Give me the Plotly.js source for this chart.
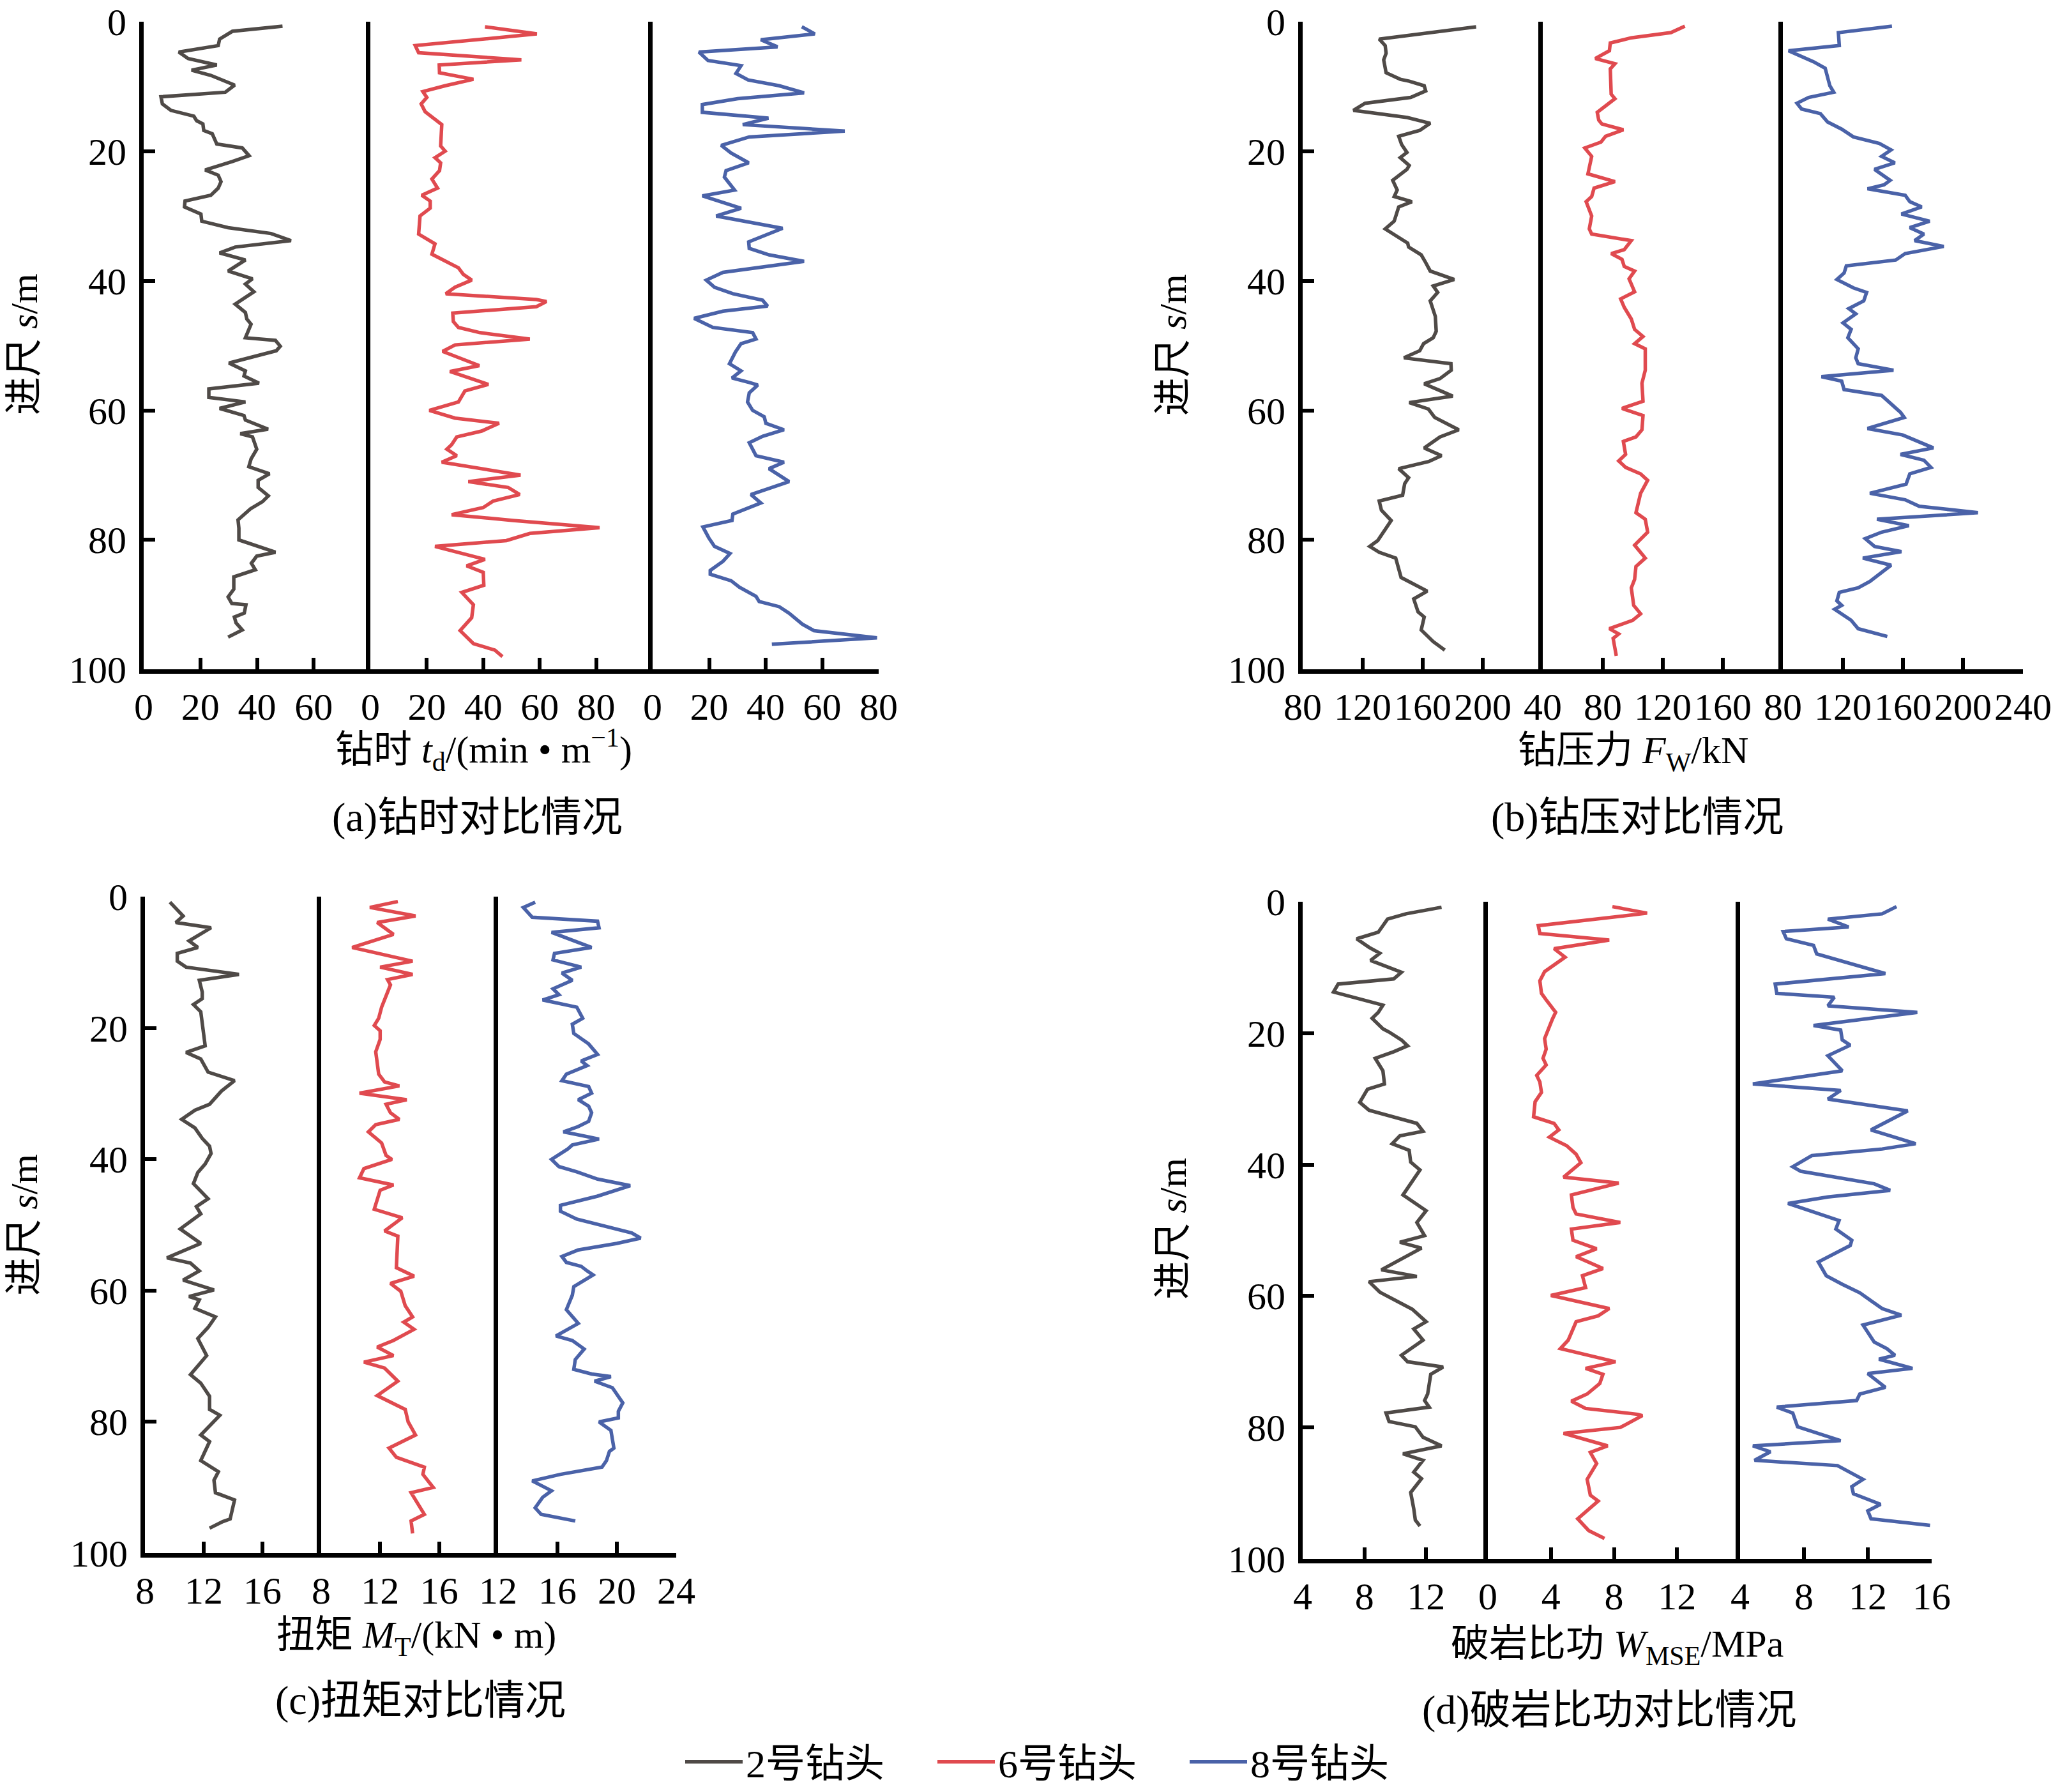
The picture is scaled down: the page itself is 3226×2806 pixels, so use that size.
<!DOCTYPE html>
<html>
<head>
<meta charset="utf-8">
<script src="https://cdn.plot.ly/plotly-3.0.1.min.js"></script>
<style>
html, body { margin: 0; padding: 0; background: #fff; }
#chart { width: 3226px; height: 2806px; }
</style>
</head>
<body>
<div id="chart"></div>
<script>
var W = 3226, H = 2806;
var FONT = 'Liberation Serif, "Noto Sans CJK SC", serif';

// each series: [depth s (m), value]
// (a) drilling time t_d, min/m
var timeBit2 = [[0.7,49],[1.5,31.3],[2.7,26.8],[3.7,26.3],[4.7,12.4],[5.7,15.7],[6.7,25.8],[7.5,16.9],[8.3,23.7],[9.8,32.1],[10.9,28.8],[11.6,6.1],[12.7,6.6],[13.7,9.6],[14.6,17.7],[15.3,18.7],[15.8,20.9],[16.8,21.2],[17.3,24.2],[18.9,25.8],[19.5,34.8],[20.7,37.2],[21.6,31.3],[22.9,21.7],[23.7,26.3],[24.7,27.3],[25.7,26.3],[26.8,23.7],[27.7,14.6],[28.6,14.4],[29.7,20.2],[30.8,20.5],[31.8,29.8],[32.7,44.9],[33.8,52],[34.8,32.3],[35.7,26.8],[36.8,35.9],[38.5,29.8],[39.7,38.4],[40.5,35.9],[41.7,38.9],[43.6,32.3],[44.9,35.9],[45.9,36.4],[46.7,37.9],[48.8,35.9],[49.2,46.5],[50.1,48.2],[50.8,46.8],[52.7,30.1],[53.9,35.9],[54.7,35.4],[55.8,40.7],[56.7,23],[58,23],[58.7,35.9],[59.7,26.8],[60.8,35.4],[61.5,35.9],[62.9,43.9],[63.6,34.1],[64.1,38.4],[66,39.9],[67.5,37.9],[68.7,37.1],[69.8,44.4],[70.8,40.4],[71.9,40.4],[73.2,44],[74.1,41.9],[75.2,37.7],[76.9,33.3],[78.2,33.6],[80,33.6],[81.9,46.5],[82.5,39.9],[83.6,38],[84.6,39.4],[85.7,31.8],[87.6,31.8],[88.8,29.8],[89.8,31.1],[90,36.1],[91.3,35.5],[91.9,32],[92.8,32.6],[93.9,34.8],[95,29.8]];
var timeBit6 = [[0.8,40.6],[1.9,59],[3.7,15.9],[4.8,17.1],[5.9,53.5],[6.7,24.4],[7.9,24.5],[8.9,36.5],[9.9,26.5],[10.8,18.6],[11.7,20],[12.7,18],[13.9,19.4],[15.2,23.5],[15.9,25.3],[19.2,24.9],[20,26.5],[21,22.9],[21.8,24.9],[23,24.5],[24.3,21.8],[25.7,23.8],[26.8,18.2],[27.7,21.2],[28.8,21.2],[30,17.6],[32.8,17.1],[34.3,22.9],[35.9,21.8],[38,31.2],[39,32.9],[39.9,35.9],[41,30],[42,26.7],[42.9,58.8],[43.2,62.4],[44,58.8],[45,29.2],[46.3,29.4],[47.2,31.2],[48,38.8],[49,56.5],[49.9,30],[50.9,25.6],[53.1,38.6],[54,28.2],[56,41.8],[57,33.5],[58.7,31.2],[60,20.9],[61.2,30],[62,45.6],[63.2,39.4],[64.1,30.6],[65.3,28.8],[66,27.1],[67,30.6],[68,25.3],[70,53.2],[71,34.7],[71.9,48.8],[73,52.9],[74,43.5],[75,40],[76.1,28.8],[77,50.6],[78.1,81.2],[79,56.5],[80.1,48.2],[81,22.9],[83,40.6],[84,34.1],[85,40],[87,40.2],[88.1,32.4],[90,36.5],[92,35.9],[94,31.8],[96,36.5],[97,44.1],[98,46.8]];
var timeBit8 = [[0.8,52.8],[1.9,57.4],[2.8,38.3],[3.9,44.2],[4.7,16.4],[6,19.6],[6.8,31.3],[8,29.5],[9,33.8],[9.9,44.8],[11,53.6],[11.9,30.1],[12.8,17.6],[14,17.6],[14.9,41],[15.9,31.9],[16.9,68],[17.8,34.2],[19.1,24.3],[20.3,27.8],[21.8,34],[23,26],[24,25.4],[26,29],[26.9,17.6],[28.8,31.3],[30,22.5],[31.9,46],[34,34],[35,34.2],[36,41.2],[37,53.6],[38.7,24.9],[39.9,19],[41,21.9],[42,28.4],[43,38.9],[43.9,40.7],[44.7,24.9],[45.8,14.7],[47.2,21.3],[48,35.4],[49,36.6],[49.7,31.3],[51,29.3],[52.8,27.2],[53.9,31.3],[55,28.1],[55.7,34.2],[56.1,37.2],[57.3,34.2],[58.7,33.6],[60,35.4],[61,39.5],[62,40.1],[63,46.5],[64,39],[65,34.2],[67,36.6],[68,46.5],[69,41.2],[71,48.3],[73,34.8],[74.3,38.3],[76,28.4],[77,28.1],[78,17.8],[79.7,19.9],[81,21.9],[82.1,27.4],[83.3,24.9],[84.7,20.4],[85.3,20.4],[86.3,27.8],[87.3,30.7],[88.7,36.6],[89.5,37.7],[90.3,44.8],[91.3,48.3],[93,53],[94,57.1],[95.1,79.4],[96.1,42.2]];

// (b) weight on bit F_W, kN
var forceBit2 = [[0.8,195.6],[2.7,131],[3.7,135],[4.9,135.6],[5.9,134],[7.9,135.6],[8.9,145],[9.2,151],[9.9,161],[10.7,162],[11.7,152],[12.6,121.6],[13.7,113.8],[14.8,149.7],[15.7,165],[16.8,158],[17.7,144],[19,146],[20.2,149.5],[21,145],[22.2,151],[22.8,149.5],[24.5,140],[26,143],[27,141],[27.8,152.8],[28.6,144],[30.8,141],[32,135],[33.2,143],[34.2,150],[34.8,150.6],[36,159],[37.2,162],[38.5,165],[39.8,181],[40.8,167],[41.8,170],[43.1,165],[45.5,168.4],[47.8,169],[48.8,167],[49.7,160.6],[50.8,158],[51.9,147.5],[52.8,178.8],[53.8,179],[55.1,171.5],[55.9,161],[57.1,173],[57.8,180],[58.8,151],[59.8,163.8],[61.1,168],[62.3,178.8],[63,184],[64.1,171.5],[65.8,161],[67,172.5],[67.9,164],[69,144],[70.4,150.6],[71.3,148],[73.1,146.6],[74,131],[75.4,132.5],[77,139],[80.1,130],[81,124.7],[81.9,131],[82.8,142],[85.8,145.6],[87.9,163],[89.1,154],[91.1,156.9],[91.9,161],[93.9,159],[95.7,167],[97,174.7]];
var forceBit6 = [[0.7,134.7],[1.7,125.4],[2.5,99],[3.3,85],[4.5,84.4],[5.7,75],[6.5,88.1],[7.3,85],[11.2,85.6],[11.9,88.1],[13,81.9],[14,76.3],[15.2,77.3],[15.8,79.4],[16.7,93.7],[17.7,81.9],[18.6,78.8],[19.5,68],[20.8,72.6],[23.5,70.1],[24.7,88.1],[25.7,74.2],[27,72.6],[27.8,68.9],[30,72.6],[32,71],[32.8,72.6],[33.8,99],[35.2,94.3],[35.8,85.6],[36.7,92.8],[37.8,94.3],[38.5,101.2],[39.7,97.5],[41.7,101.2],[42.8,91.9],[44.1,94.3],[45.9,99],[47.5,101.2],[48.6,106.8],[49.7,101.2],[50.5,108.3],[53.8,108.3],[55.8,106.1],[58.6,106.8],[59.7,92.8],[60.8,106.8],[63,106.1],[64.1,102.1],[64.8,93.7],[66.8,95.2],[67.8,90.6],[68.8,95.2],[69.8,105.2],[70.8,109.9],[72.8,105.2],[75.8,102.1],[76.8,108.3],[78.8,109.9],[80.8,101.2],[82.8,108.3],[84.1,102.1],[86.1,101.2],[87.4,99],[90.1,100.6],[91.4,105.2],[92.4,99.9],[93.7,84.4],[94.5,90.6],[95.2,86.9],[97.9,89]];
var forceBit8 = [[0.7,152.7],[1.7,117],[3.7,117.6],[4.5,83.8],[6.2,100.4],[7.2,108.2],[9.9,111.3],[10.9,113.9],[11.7,97.2],[12.6,89.4],[13.5,92.5],[14.2,105],[15.5,109.8],[16.6,119.2],[17.8,127],[18.8,144.3],[19.8,152.1],[20.8,145.8],[21.8,154.6],[22.8,141.1],[24.5,151.5],[25.2,147.4],[25.8,136.4],[26.8,161.5],[27.8,164.6],[28.6,172.5],[29.7,159],[30.8,177.8],[31.8,164.6],[32.8,174],[33.8,167.8],[34.7,187.2],[35.8,161.5],[36.8,155.2],[37.7,122.3],[38.8,120.8],[39.8,116],[41.1,127],[41.8,135.8],[43.1,133.9],[44.3,123.9],[45.1,128.6],[46.5,120.1],[47.5,125.5],[48.8,123.3],[50.5,130.2],[51.9,128.6],[52.8,130.2],[53.8,153.7],[54.8,105.7],[55.5,119.2],[56.8,120.8],[57.7,145.8],[59,152.1],[60.3,158.4],[61.1,160.9],[62.8,136.4],[63.8,159.9],[64.8,170.9],[65.8,180.3],[66.8,158.4],[67.7,174],[68.8,178.7],[69.8,164.6],[71.4,162.1],[72.8,138],[73.8,161.5],[74.8,170.9],[75.8,210],[76.8,142.7],[77.8,164],[78.8,145.8],[79.8,134.9],[81,141.1],[81.8,159],[82.8,133.3],[83.9,152.1],[86.4,138],[87.4,130.2],[88.1,117.6],[89.4,116],[90.1,119.2],[90.7,114.5],[91.7,120.8],[92.4,125.5],[93.7,130.2],[94.9,149.6]];

// (c) torque M_T, kN*m
var torqueBit2 = [[0.8,9.7],[2.9,10.6],[3.9,10.1],[4.7,12.5],[6.7,11],[7.7,11.6],[8.6,10.2],[9.8,10.2],[10.7,10.8],[11.8,14.4],[12.7,11.7],[14.5,11.9],[15.5,11.9],[16.4,11.3],[17.5,11.8],[19.6,11.9],[22.7,12.1],[23.7,10.8],[24.7,11.8],[26.7,12.3],[28,14.1],[29.6,13.2],[31.6,12.4],[32.5,11.4],[33.9,10.5],[35.2,11.4],[36.8,11.9],[38,12.4],[39.1,12.5],[40.7,12.1],[42,11.6],[43.7,11.3],[46,12.3],[47.2,11.5],[48.3,11.8],[50.6,10.4],[52.8,11.8],[55,9.5],[55.8,11.1],[57,11.7],[58.4,10.6],[59.9,12.7],[60.9,11],[61.4,11.7],[62.7,11.4],[64,12.8],[65.6,12.3],[67.3,11.6],[69.9,12.2],[72.8,11.1],[74.1,11.8],[76.1,12.4],[78.1,12.4],[79,13.1],[82,11.8],[83,12.4],[85.9,11.8],[87.6,13],[88.9,12.7],[90.8,12.8],[91.9,14.1],[94.8,13.8],[95.2,13.3],[96.2,12.4]];
var torqueBit6 = [[0.7,13.2],[1.6,11.3],[2.9,14.4],[3.9,11.8],[5.7,12.9],[7.7,10.1],[9.8,14.2],[10.7,12],[11.8,14.2],[12.6,12.5],[13.4,12.7],[15.5,12.3],[16.8,12.1],[18.5,11.9],[19.6,11.6],[20.4,12],[21.7,12],[23.6,11.7],[27,11.9],[28.2,12.3],[28.8,13.3],[29.9,10.6],[30.9,13.8],[31.6,12.4],[32.9,12.7],[33.9,13.3],[34.7,11.7],[35.8,11.2],[37.5,12.1],[39.4,12.4],[40,12.8],[41.4,10.9],[42.8,10.6],[43.9,12.9],[44.7,12],[47.6,11.6],[48.9,13.5],[50.9,12.3],[51.7,13.2],[56.5,13.1],[57.8,14.3],[58.9,12.7],[60.1,13.4],[62.3,13.7],[64,14.2],[64.8,13.6],[65.9,14.3],[67.6,12.9],[68.6,11.8],[69.9,12.9],[70.9,10.9],[71.8,12.3],[73.8,13.2],[76,11.8],[78.1,13.7],[80,13.9],[82,14.4],[84,12.6],[85.4,13.1],[86.9,15],[88,14.9],[90,15.6],[90.8,14.1],[94.1,15],[95.1,14.1],[97,14.2]];
var torqueBit8 = [[0.8,14.5],[1.6,13.7],[3.1,14.3],[3.7,18.7],[4.7,18.8],[5.4,15.6],[7.7,18.3],[8.6,15.8],[9.6,15.7],[10.7,17.6],[11.6,16.3],[12.7,17],[14,15.7],[14.9,16.1],[15.7,15],[16.8,17.3],[18.5,17.7],[19.4,17],[20.8,17.1],[22.4,18.1],[24,18.7],[25,17.6],[25.7,18],[27,16.6],[28,16.3],[28.9,18.1],[29.9,18.3],[30.9,17.4],[31.9,18.1],[32.9,18.3],[34.2,18.1],[35,17.4],[35.8,16.4],[36.9,18.8],[37.8,17],[38.4,16.7],[40,15.6],[41.1,16.1],[41.9,17.3],[43,18.7],[44,20.9],[45.6,18.7],[47,16.2],[47.9,16.2],[49.1,17.3],[51.2,21],[52,21.6],[52.8,20],[53.8,17.4],[54.8,16.3],[55.7,16.6],[56.3,17.6],[57,18],[57.6,18.4],[59.4,17.1],[60.7,17],[62.9,16.6],[64,17],[65,17.4],[66.9,15.9],[67.6,17],[68.9,17.8],[70.5,17.2],[72,17.1],[72.7,18.3],[73.1,19.6],[73.8,18.5],[74.8,19.7],[76,20.1],[77.1,20.4],[78.4,20.1],[79.4,20.1],[80,18.8],[81.3,19.6],[84,19.8],[84.5,19.5],[85.9,19.3],[86.9,19],[88,16.2],[89,14.3],[90.5,15.6],[91.5,15],[93.1,14.5],[94.1,14.9],[95.1,17.2]];

// (d) mechanical specific energy W_MSE, MPa
var mseBit2 = [[0.8,13],[1.8,10.7],[2.6,9.5],[4.6,8.9],[5.6,7.5],[6.9,8.3],[7.8,9],[8.9,8.4],[10.7,10.4],[11.7,9.9],[12.5,6.3],[13.7,6],[15.7,9.2],[16.8,8.9],[17.7,8.5],[19.3,9.2],[19.8,9.6],[21,10.4],[21.9,10.8],[22.8,9.9],[23.8,8.7],[25.1,9],[25.7,9.2],[27.7,9.3],[28.5,8.2],[30.5,7.7],[31.7,8.3],[33.7,11.4],[34.9,11.8],[35.6,10.3],[36.8,9.8],[37.8,10.9],[39.6,11],[40.8,11.6],[44.6,10.5],[47,12],[48.8,11.4],[50.8,11.9],[51.8,10.3],[52.7,11.7],[55.3,9.6],[56,9.1],[57,11.4],[57.8,8.3],[59.4,9],[62,11.1],[63.9,12],[65,11.2],[66.7,11.8],[69,10.4],[70,10.8],[70.8,13.1],[71.9,12.3],[74.9,12.1],[75.9,11.9],[76.9,12.2],[77.8,9.4],[79.1,9.6],[79.9,11.3],[81.5,11.8],[82.8,13],[84,10.5],[85,11.8],[86.8,11.2],[87.8,11.7],[89.9,11],[92.4,11.2],[94.1,11.3],[95,11.6]];
var mseBit6 = [[0.7,7.9],[1.7,10.1],[3.6,3.2],[4.8,3.3],[5.8,7.7],[7.1,4.2],[8.4,4.9],[10.6,3.6],[12,3.3],[13.9,3.4],[14.9,3.7],[16.8,4.3],[17.8,4.1],[20.8,3.6],[22.4,3.7],[23.8,3.5],[24.8,3.7],[26.4,3.1],[27.4,3.3],[29,3.4],[30.4,3],[32.7,2.9],[33.7,4.2],[34.7,4.5],[35.8,3.9],[37.1,5],[38.4,5.6],[39.7,5.9],[41.9,4.8],[42.8,8.3],[44.6,5.3],[46.5,5.4],[47.5,5.6],[48.8,8.4],[49.8,5.3],[51.5,5.4],[52.8,6.9],[54,5.6],[55.8,7.3],[56.9,6],[58.7,6.2],[59.9,4],[61.9,7.7],[63,7],[63.9,5.6],[66.7,5.1],[68,4.6],[70,8.1],[71,6.2],[71.9,7.3],[73.3,7.1],[74.9,6.3],[76,5.3],[77.1,6.2],[78,9.5],[78.2,9.8],[80,8.4],[80.9,4.8],[82.8,7.6],[83.8,6.5],[85.5,6.9],[87.9,6.3],[90.3,6.5],[91.2,7],[93.9,5.7],[95.7,6.4],[96.9,7.4]];
var mseBit8 = [[0.7,13.8],[1.8,12.9],[2.6,9.5],[3.8,10.8],[4.5,6.7],[5.6,6.9],[6.6,8.6],[7.9,8.8],[10.9,13.1],[12.5,6.2],[13.9,6.3],[14.5,9.9],[15.8,9.5],[16.8,15.1],[18.8,8.6],[19.5,10.3],[21,10.4],[21.8,10.9],[23.4,9.5],[25.7,10.4],[27.7,4.8],[28.7,10.3],[30,9.5],[31.8,14.5],[34.7,12.2],[36.8,15],[37.6,12.9],[38.6,8.5],[40.3,7.3],[41,7.8],[42.9,12.4],[43.9,13.4],[44.9,9.5],[45.9,7],[48.5,10.2],[49.8,10],[51.5,11],[52.3,10.9],[54.8,8.9],[56.9,9.4],[58.2,10.4],[59.5,11.5],[60.7,12.2],[61.9,12.9],[62.9,14.1],[64.4,11.7],[67,12.4],[68,13.2],[69,13.7],[69.6,12.7],[71,14.8],[71.8,12],[73.9,13.1],[74.9,11.5],[75.9,11.3],[76.9,6.3],[77.8,7.3],[79.9,7.6],[82,10.3],[82.8,4.8],[83.7,5.9],[85,4.9],[85.8,10.1],[87.9,11.7],[89,11],[90.1,11.1],[91.7,12.8],[92.7,12],[93.9,12.2],[94.9,15.9]];

var bitNames = ['2号钻头', '6号钻头', '8号钻头'];
var colors = ['#4f4a47', '#e04a4f', '#4a62a8'];

var depthTicks = [0, 20, 40, 60, 80, 100];
var depthTitle = '进尺 <i>s</i>/m';
var xTitles = [
    '钻时 <i>t</i><sub>d</sub>/(min • m<sup>−1</sup>)',
    '钻压力 <i>F</i><sub>W</sub>/kN',
    '扭矩 <i>M</i><sub>T</sub>/(kN • m)',
    '破岩比功 <i>W</i><sub>MSE</sub>/MPa'
];
var panelTitles = ['(a)钻时对比情况', '(b)钻压对比情况', '(c)扭矩对比情况', '(d)破岩比功对比情况'];

var ranges = [
    [[0, 80], [0, 100], [0, 80]],
    [[80, 240], [40, 200], [80, 240]],
    [[8, 20], [8, 20], [12, 24]],
    [[4, 16], [0, 16], [4, 16]]
];
var tickSets = [
    [[0, 20, 40, 60], [0, 20, 40, 60, 80], [0, 20, 40, 60, 80]],
    [[80, 120, 160, 200], [40, 80, 120, 160], [80, 120, 160, 200, 240]],
    [[8, 12, 16], [8, 12, 16], [12, 16, 20, 24]],
    [[4, 8, 12], [0, 4, 8, 12], [4, 8, 12, 16]]
];
var seriesSets = [
    [timeBit2, timeBit6, timeBit8],
    [forceBit2, forceBit6, forceBit8],
    [torqueBit2, torqueBit6, torqueBit8],
    [mseBit2, mseBit6, mseBit8]
];

// page geometry in px
var colEdges = [[225, 580, 1022, 1376], [2040, 2416, 2792, 3168], [227, 503, 780, 1059], [2040, 2330, 2725, 3025]];
var rowEdges = [[34, 1054], [34, 1054], [1412, 2445], [1420, 2454]];
var yTitlePos = [[38, 542], [1837, 543], [38, 1928], [1837, 1934]];
var xTitlePos = [[757, 1180], [2557, 1186], [652, 2578], [2532, 2592]];
var subTitlePos = [[747, 1286], [2564, 1286], [658, 2677], [2520, 2692]];

function fx(px) { return px / W; }
function fy(py) { return 1 - py / H; }
function unpack(rows, k) { return rows.map(function (r) { return r[k]; }); }

function note(text, pos, size, angle) {
    return {
        xref: 'paper', yref: 'paper', x: fx(pos[0]), y: fy(pos[1]),
        text: text, showarrow: false, xanchor: 'center', yanchor: 'middle',
        textangle: angle || 0,
        font: {family: FONT, size: size, color: '#000'}
    };
}

var data = [];
var layout = {
    width: W, height: H,
    margin: {l: 0, r: 0, t: 0, b: 0},
    paper_bgcolor: '#fff', plot_bgcolor: 'rgba(0,0,0,0)',
    font: {family: FONT, size: 60, color: '#000'},
    showlegend: true,
    legend: {
        orientation: 'h', x: fx(1068), y: fy(2774), xanchor: 'left', yanchor: 'middle',
        font: {family: FONT, size: 62, color: '#000'},
        entrywidth: 290, entrywidthmode: 'pixels', itemwidth: 90,
        bgcolor: 'rgba(0,0,0,0)'
    },
    annotations: []
};

for (var p = 0; p < 4; p++) {
    for (var s = 0; s < 3; s++) {
        var n = p * 3 + s + 1;
        var suffix = n === 1 ? '' : String(n);
        layout['xaxis' + suffix] = {
            domain: [fx(colEdges[p][s]), fx(colEdges[p][s + 1])],
            range: ranges[p][s], anchor: 'y' + suffix,
            showline: true, linewidth: 7, linecolor: '#000',
            ticks: 'inside', ticklen: 18, tickwidth: 6, tickcolor: '#000',
            tickmode: 'array', tickvals: tickSets[p][s],
            ticklabeloverflow: 'allow',
            tickfont: {family: FONT, size: 60, color: '#000'},
            showgrid: false, zeroline: false, fixedrange: true
        };
        layout['yaxis' + suffix] = {
            domain: [fy(rowEdges[p][1]), fy(rowEdges[p][0])],
            range: [100, 0], anchor: 'x' + suffix,
            showline: true, linewidth: 7, linecolor: '#000',
            ticks: s === 0 ? 'inside' : '', ticklen: 18, tickwidth: 6, tickcolor: '#000',
            tickmode: 'array', tickvals: depthTicks, showticklabels: s === 0,
            ticklabelstandoff: 8, ticklabeloverflow: 'allow',
            tickfont: {family: FONT, size: 60, color: '#000'},
            showgrid: false, zeroline: false, fixedrange: true
        };
        data.push({
            type: 'scatter', mode: 'lines',
            x: unpack(seriesSets[p][s], 1), y: unpack(seriesSets[p][s], 0),
            xaxis: 'x' + suffix, yaxis: 'y' + suffix,
            name: bitNames[s], legendgroup: bitNames[s], showlegend: p === 0,
            line: {color: colors[s], width: 5.5},
            hoverinfo: 'skip'
        });
    }
    layout.annotations.push(note(depthTitle, yTitlePos[p], 60, -90));
    layout.annotations.push(note(xTitles[p], xTitlePos[p], 60));
    layout.annotations.push(note(panelTitles[p], subTitlePos[p], 64));
}

Plotly.newPlot('chart', data, layout, {staticPlot: true});
</script>
</body>
</html>
